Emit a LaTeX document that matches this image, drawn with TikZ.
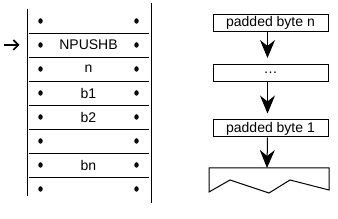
\documentclass[tikz,border=0pt]{standalone}
\usepackage{fontspec}
\setmainfont{Liberation Sans}
\usepackage{tikz}
\usetikzlibrary{shapes.geometric,arrows.meta,positioning,calc}

\begin{document}
\begin{tikzpicture}[
  x=1pt,y=-1pt,
  line width=1pt,
  font=\fontsize{14}{16}\selectfont,
  cell/.style={minimum width=119pt,minimum height=24pt,inner sep=0pt,align=center},
  byte/.style={draw,minimum width=115pt,minimum height=17pt,inner sep=0pt,align=center},
  flow/.style={-{Stealth[length=18pt,width=15pt,inset=6pt]}},
  ptr/.style={-{Straight Barb[length=5pt,width=10pt]},line width=1.6pt},
  dot/.style={ellipse,fill,inner sep=0pt,minimum width=4.5pt,minimum height=5.5pt},
]
\useasboundingbox (0,0) rectangle (338,219);

% instruction stream
\draw (27,9) -- (27,196);
\draw (151,3) -- (151,203);
\foreach \txt [count=\k from 0] in {{},NPUSHB,n,b1,b2,{},bn,{}} {
  \node[cell] (r\k) at (88.5,21+24*\k) {\txt};
  \node[dot] at ($(r\k.center)+(-48,0)$) {};
  \node[dot] at ($(r\k.center)+(48,0)$) {};
}
\foreach \k in {0,...,6} {
  \draw (r\k.south west) -- (r\k.south east);
}
\draw[ptr] ([xshift=-25pt]r1.west) -- ([xshift=-9pt]r1.west);

% stack
\node[byte] (b1) at (270.5,23) {padded byte n};
\node[byte] (b2) at (270.5,73) {\dots};
\node[byte] (b3) at (270.5,128.5) {padded byte 1};
\coordinate (top) at (267,168);
\draw (209,192) -- (209,168) -- (329,168) -- (329,190)
  -- (290,180) -- (269,193) -- (230,180) -- cycle;
\draw[flow] ([xshift=-3pt]b1.south) -- ([xshift=-3pt,yshift=6pt]b2.north);
\draw[flow] ([xshift=-3pt]b2.south) -- ([xshift=-3pt,yshift=6pt]b3.north);
\draw[flow] ([xshift=-3pt]b3.south) -- (top);
\end{tikzpicture}
\end{document}
